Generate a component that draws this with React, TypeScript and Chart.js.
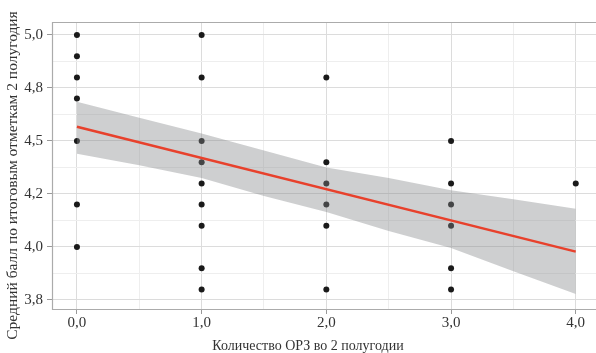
import React, { useEffect, useRef } from "react";
import { Chart, registerables } from "chart.js";

Chart.register(...registerables);

// Scatter observations (x = number of ARI episodes, y = average grade)
const pointX = [0, 0, 0, 0, 0, 0, 0, 1, 1, 1, 1, 1, 1, 1, 1, 1, 2, 2, 2, 2, 2, 2, 3, 3, 3, 3, 3, 3, 4];
const pointY = [
  5.0, 4.9, 4.8, 4.7, 4.5, 4.2, 4.0,
  5.0, 4.8, 4.5, 4.4, 4.3, 4.2, 4.1, 3.9, 3.8,
  4.8, 4.4, 4.3, 4.2, 4.1, 3.8,
  4.5, 4.3, 4.2, 4.1, 3.9, 3.8,
  4.3,
];

// Regression line
const fitX = [0, 4];
const fitY = [4.567, 3.978];

// Confidence band
const bandX = [0, 0.5, 1, 1.5, 2, 2.5, 3, 3.5, 4];
const bandUpper = [4.685, 4.61, 4.535, 4.455, 4.375, 4.325, 4.268, 4.225, 4.18];
const bandLower = [4.44, 4.385, 4.325, 4.24, 4.165, 4.075, 3.995, 3.885, 3.778];

// Axis ticks
const xMajorTicks = [0, 1, 2, 3, 4];
const xTickLabels = ["0,0", "1,0", "2,0", "3,0", "4,0"];
const xMinorTicks = [0.5, 1.5, 2.5, 3.5];
const yMajorTicks = [3.75, 4.0, 4.25, 4.5, 4.75, 5.0];
const yTickLabels = ["3,8", "4,0", "4,2", "4,5", "4,8", "5,0"];
const yMinorTicks = [3.875, 4.125, 4.375, 4.625, 4.875];

const xTitle = "Количество ОРЗ во 2 полугодии";
const yTitle = "Средний балл по итоговым отметкам 2 полугодия";

const FONT = "'Liberation Serif', 'DejaVu Serif', serif";
const TEXT = "#333333";

const idx = (arr: number[], v: number) => arr.findIndex((a) => Math.abs(a - v) < 1e-6);

const framePlugin = {
  id: "frame",
  beforeDatasetsDraw(chart: any) {
    const { ctx, chartArea } = chart;
    ctx.save();
    ctx.strokeStyle = "#ababab";
    ctx.lineWidth = 1.2;
    ctx.beginPath();
    ctx.moveTo(chartArea.right + 2, chartArea.top + 0.5);
    ctx.lineTo(chartArea.left + 0.5, chartArea.top + 0.5);
    ctx.lineTo(chartArea.left + 0.5, chartArea.bottom + 0.5);
    ctx.lineTo(chartArea.right + 2, chartArea.bottom + 0.5);
    ctx.stroke();
    ctx.restore();
  },
  afterDraw(chart: any) {
    const { ctx, chartArea } = chart;
    ctx.save();
    ctx.fillStyle = TEXT;
    ctx.textAlign = "center";
    ctx.textBaseline = "middle";
    ctx.font = `14px ${FONT}`;
    ctx.fillText(xTitle, chartArea.left + 256, chartArea.bottom + 37);
    ctx.font = `15.5px ${FONT}`;
    ctx.translate(13, (chartArea.top + chartArea.bottom) / 2 + 10);
    ctx.rotate(-Math.PI / 2);
    ctx.fillText(yTitle, 0, 0);
    ctx.restore();
  },
};

export default function App() {
  const ref = useRef<HTMLCanvasElement>(null);

  useEffect(() => {
    if (!ref.current) return;
    const chart = new Chart(ref.current, {
      type: "line",
      data: {
        datasets: [
          {
            label: "points",
            data: pointX.map((x, i) => ({ x, y: pointY[i] })),
            showLine: false,
            pointRadius: 3,
            pointBackgroundColor: "#1a1a1a",
            pointBorderWidth: 0,
            order: 3,
          },
          {
            label: "upper",
            data: bandX.map((x, i) => ({ x, y: bandUpper[i] })),
            borderWidth: 0,
            borderColor: "rgba(0,0,0,0)",
            pointRadius: 0,
            fill: false,
            order: 2,
          },
          {
            label: "lower",
            data: bandX.map((x, i) => ({ x, y: bandLower[i] })),
            borderWidth: 0,
            borderColor: "rgba(0,0,0,0)",
            pointRadius: 0,
            fill: 1,
            backgroundColor: "rgba(133,134,137,0.4)",
            order: 1,
          },
          {
            label: "fit",
            data: fitX.map((x, i) => ({ x, y: fitY[i] })),
            borderColor: "#e8412c",
            borderWidth: 2.5,
            pointRadius: 0,
            fill: false,
            order: 0,
          },
        ],
      },
      options: {
        animation: false,
        responsive: false,
        layout: { autoPadding: false, padding: { top: 22, right: 0, left: 0, bottom: 0 } },
        plugins: {
          legend: { display: false },
          tooltip: { enabled: false },
        },
        scales: {
          x: {
            type: "linear",
            min: -0.2,
            max: 4.1625,
            afterBuildTicks: (scale: any) => {
              scale.ticks = [...xMajorTicks, ...xMinorTicks].sort((a, b) => a - b).map((v) => ({ value: v }));
            },
            afterFit: (scale: any) => {
              scale.height = 44;
            },
            ticks: {
              autoSkip: false,
              maxRotation: 0,
              padding: 0,
              color: TEXT,
              font: { family: FONT, size: 15 },
              callback: (v: any) => {
                const i = idx(xMajorTicks, Number(v));
                return i >= 0 ? xTickLabels[i] : "";
              },
            },
            grid: {
              color: (c: any) => (idx(xMajorTicks, c.tick?.value) >= 0 ? "#dcdcdc" : "#eeeeee"),
              tickColor: (c: any) => (idx(xMajorTicks, c.tick?.value) >= 0 ? "#999999" : "rgba(0,0,0,0)"),
              tickLength: 5,
              lineWidth: 1,
            },
            border: { display: false },
          },
          y: {
            type: "linear",
            min: 3.7075,
            max: 5.0613,
            afterBuildTicks: (scale: any) => {
              scale.ticks = [...yMajorTicks, ...yMinorTicks].sort((a, b) => a - b).map((v) => ({ value: v }));
            },
            afterFit: (scale: any) => {
              scale.width = 52;
            },
            ticks: {
              autoSkip: false,
              padding: 4,
              color: TEXT,
              font: { family: FONT, size: 15 },
              callback: (v: any) => {
                const i = idx(yMajorTicks, Number(v));
                return i >= 0 ? yTickLabels[i] : "";
              },
            },
            grid: {
              color: (c: any) => (idx(yMajorTicks, c.tick?.value) >= 0 ? "#dcdcdc" : "#eeeeee"),
              tickColor: (c: any) => (idx(yMajorTicks, c.tick?.value) >= 0 ? "#999999" : "rgba(0,0,0,0)"),
              tickLength: 5,
              lineWidth: 1,
            },
            border: { display: false },
          },
        },
      },
      plugins: [framePlugin],
    } as any);
    return () => chart.destroy();
  }, []);

  return (
    <div style={{ position: "absolute", left: 0, top: 0, width: 596, height: 353, background: "#fff" }}>
      <canvas ref={ref} width={596} height={353} style={{ display: "block" }} />
    </div>
  );
}
